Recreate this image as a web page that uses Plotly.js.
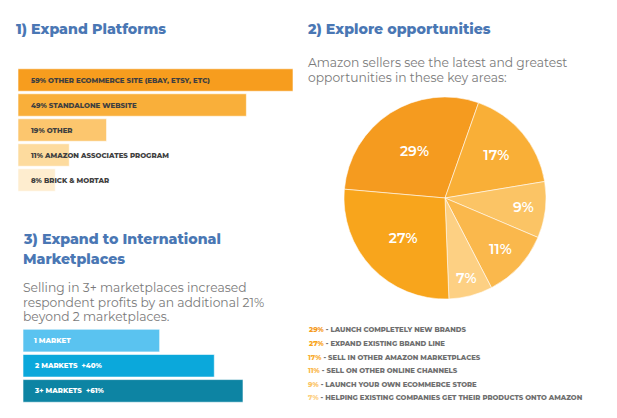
<!DOCTYPE html>
<html><head><meta charset="utf-8">
<script src="https://cdn.plot.ly/plotly-3.0.1.min.js"></script>
<style>html,body{margin:0;padding:0;background:#fff;}#chart{width:617px;height:418px;}</style>
</head><body><div id="chart"></div>
<script>
// 1) Expand Platforms
const platformLabels = ["59% OTHER ECOMMERCE SITE (EBAY, ETSY, ETC)", "49% STANDALONE WEBSITE", "19% OTHER", "11% AMAZON ASSOCIATES PROGRAM", "8% BRICK & MORTAR"];
const platformValues = [59, 49, 19, 11, 8];
const platformColors = ["#F79D1E", "#F9AF3A", "#FCC66E", "#FDDB9E", "#FEEDCF"];

// 2) Explore opportunities (legend order)
const oppPercents = [29, 27, 17, 11, 9, 7];
const oppLabels = ["LAUNCH COMPLETELY NEW BRANDS", "EXPAND EXISTING BRAND LINE", "SELL IN OTHER AMAZON MARKETPLACES", "SELL ON OTHER ONLINE CHANNELS", "LAUNCH YOUR OWN ECOMMERCE STORE", "HELPING EXISTING COMPANIES GET THEIR PRODUCTS ONTO AMAZON"];
const oppColors = ["#F59B1F", "#F8A51C", "#F9AF37", "#FAB84C", "#FBC465", "#FDD083"];
const pieOrder = [0, 2, 4, 3, 5, 1]; // clockwise order of slices in the pie

// 3) Expand to International Marketplaces
const marketLabels = ["1 MARKET", "2 MARKETS  +40%", "3+ MARKETS  +61%"];
const marketValues = [100, 140, 161];
const marketColors = ["#5AC3F0", "#0BA8DB", "#0D84A3"];

const titleFont = {family: "Montserrat, 'DejaVu Sans', sans-serif", size: 14.2, color: "#4A77B4", weight: 800};
const bodyFont = {family: "Montserrat, 'Open Sans', sans-serif", size: 12.3, color: "#7A7A7A"};
const PW = 617, PH = 418;
const px = v => v / PW, py = v => 1 - v / PH;

const traces = [
  {type: "bar", orientation: "h", x: platformValues, y: platformLabels, xaxis: "x", yaxis: "y",
   marker: {color: platformColors, line: {color: "rgba(255,255,255,0.6)", width: 1}}, hoverinfo: "none", showlegend: false},
  {type: "bar", orientation: "h", x: marketValues, y: marketLabels, xaxis: "x2", yaxis: "y2",
   marker: {color: marketColors, line: {color: "rgba(255,255,255,0.6)", width: 1}}, hoverinfo: "none", showlegend: false},
  {type: "pie", values: pieOrder.map(i => oppPercents[i]), labels: pieOrder.map(i => oppLabels[i]),
   marker: {colors: pieOrder.map(i => oppColors[i]), line: {color: "rgba(255,255,255,0.55)", width: 1}},
   sort: false, direction: "clockwise", rotation: -85,
   texttemplate: "%{value}%", textposition: "inside", insidetextorientation: "horizontal",
   textfont: {family: "Montserrat, 'Open Sans', sans-serif", size: 14, color: "#fff", weight: 600},
   domain: {x: [px(344), px(546)], y: [py(299), py(97)]}, showlegend: false, hoverinfo: "none"}
];

const annotations = [];
const addText = (x, y, text, font, extra) => annotations.push(Object.assign({xref: "paper", yref: "paper", x: px(x), y: py(y), text: text, showarrow: false, xanchor: "left", yanchor: "middle", align: "left", font: font}, extra || {}));

addText(14, 29, "1) Expand Platforms", titleFont);
addText(305, 29, "2) Explore opportunities", titleFont);
addText(21, 239, "3) Expand to International", titleFont);
addText(21, 259, "Marketplaces", titleFont);
addText(306, 62, "Amazon sellers see the latest and greatest", bodyFont);
addText(306, 77, "opportunities in these key areas:", bodyFont);
addText(21, 287, "Selling in 3+ marketplaces increased", bodyFont);
addText(21, 302, "respondent profits by an additional 21%", bodyFont);
addText(21, 316, "beyond 2 marketplaces.", bodyFont);

platformLabels.forEach((l, i) => annotations.push({xref: "x", yref: "y", x: 0, y: l, xanchor: "left", xshift: 11, showarrow: false, text: l,
  font: {family: "Montserrat, 'DejaVu Sans', sans-serif", size: 7, color: "#404040", weight: 800}}));
marketLabels.forEach((l, i) => annotations.push({xref: "x2", yref: "y2", x: 0, y: l, xanchor: "left", xshift: 9, showarrow: false, text: l.replace(/ /g, "&nbsp;"),
  font: {family: "Montserrat, 'DejaVu Sans', sans-serif", size: 7, color: "#FFFFFF", weight: 800}}));

const legY = [329, 343, 357, 370, 384, 397];
oppPercents.forEach((p, i) => addText(306, legY[i],
  `<span style="color:${oppColors[i]}">${p}%</span> - ${oppLabels[i]}`,
  {family: "Montserrat, 'DejaVu Sans', sans-serif", size: 6.9, color: "#707070", weight: 800}));

const hiddenAxis = {showgrid: false, zeroline: false, showticklabels: false, ticks: "", showline: false, fixedrange: true};
const layout = {
  width: PW, height: PH, margin: {l: 0, r: 0, t: 0, b: 0},
  paper_bgcolor: "#fff", plot_bgcolor: "rgba(0,0,0,0)",
  xaxis: Object.assign({domain: [px(18), px(293)], range: [0, Math.max(...platformValues)], anchor: "y"}, hiddenAxis),
  yaxis: Object.assign({domain: [py(192.5), py(67.5)], autorange: "reversed", type: "category", anchor: "x"}, hiddenAxis),
  xaxis2: Object.assign({domain: [px(23), px(243)], range: [0, Math.max(...marketValues)], anchor: "y2"}, hiddenAxis),
  yaxis2: Object.assign({domain: [py(403.5), py(328)], autorange: "reversed", type: "category", anchor: "x2"}, hiddenAxis),
  bargap: 0.1,
  annotations: annotations,
  showlegend: false
};
Plotly.newPlot("chart", traces, layout, {displayModeBar: false, staticPlot: true});
</script></body></html>
